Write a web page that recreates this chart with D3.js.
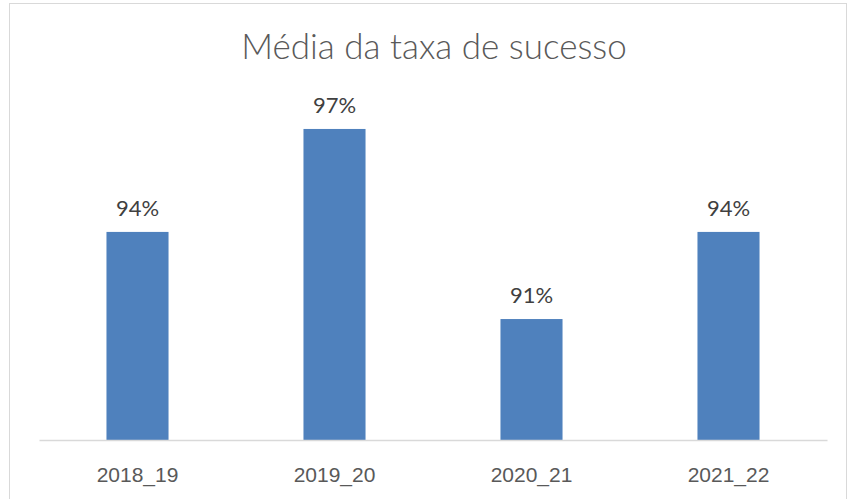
<!DOCTYPE html>
<html lang="pt">
<head>
    <meta charset="UTF-8">
    <title>Média da taxa de sucesso</title>
    <script src="https://d3js.org/d3.v7.min.js"></script>
    <style>
        body {
            margin: 0;
            background-color: white;
            font-family: Lato, "Open Sans", Arial, sans-serif;
        }
        .title {
            font-size: 35px;
            font-weight: 300;
            fill: #595959;
        }
        .data-label {
            font-size: 22px;
            fill: #404040;
        }
        .axis-label {
            font-size: 21px;
            fill: #595959;
        }
        .bar {
            fill: #4f81bd;
        }
    </style>
</head>
<body>
    <div id="chart"></div>

    <script>
        // Academic years and success rates
        const years = ["2018_19", "2019_20", "2020_21", "2021_22"];
        const rates = [0.9378, 0.9664, 0.9136, 0.9378];

        const width = 847;
        const height = 499;

        const svg = d3.select("#chart")
            .append("svg")
            .attr("width", width)
            .attr("height", height);

        // Outer chart border
        svg.append("rect")
            .attr("x", 9.5)
            .attr("y", 3.5)
            .attr("width", 837)
            .attr("height", 500)
            .attr("fill", "white")
            .attr("stroke", "#d9d9d9");

        const x = d3.scaleBand()
            .domain(years)
            .range([39, 827])
            .paddingInner(0.685)
            .paddingOuter(0.3425);

        const y = d3.scaleLinear()
            .domain([0.88, 0.98])
            .range([440, 80]);

        svg.append("text")
            .attr("class", "title")
            .attr("x", 434)
            .attr("y", 59)
            .attr("text-anchor", "middle")
            .text("Média da taxa de sucesso");

        svg.selectAll(".bar")
            .data(rates)
            .enter()
            .append("rect")
            .attr("class", "bar")
            .attr("x", (d, i) => x(years[i]))
            .attr("y", d => y(d))
            .attr("width", x.bandwidth())
            .attr("height", d => y(0.88) - y(d));

        svg.selectAll(".data-label")
            .data(rates)
            .enter()
            .append("text")
            .attr("class", "data-label")
            .attr("x", (d, i) => x(years[i]) + x.bandwidth() / 2)
            .attr("y", d => y(d) - 16)
            .attr("text-anchor", "middle")
            .text(d => d3.format(".0%")(d));

        // Category axis
        const xAxis = svg.append("g")
            .attr("transform", `translate(0,${y(0.88)})`)
            .call(d3.axisBottom(x).tickSize(0).tickPadding(0));

        xAxis.select(".domain")
            .attr("stroke", "#d9d9d9")
            .attr("stroke-width", 1.5);

        xAxis.selectAll("text")
            .attr("class", "axis-label")
            .attr("font-family", null)
            .attr("font-size", null)
            .attr("fill", null)
            .attr("dy", null)
            .attr("y", 42);
    </script>
</body>
</html>
